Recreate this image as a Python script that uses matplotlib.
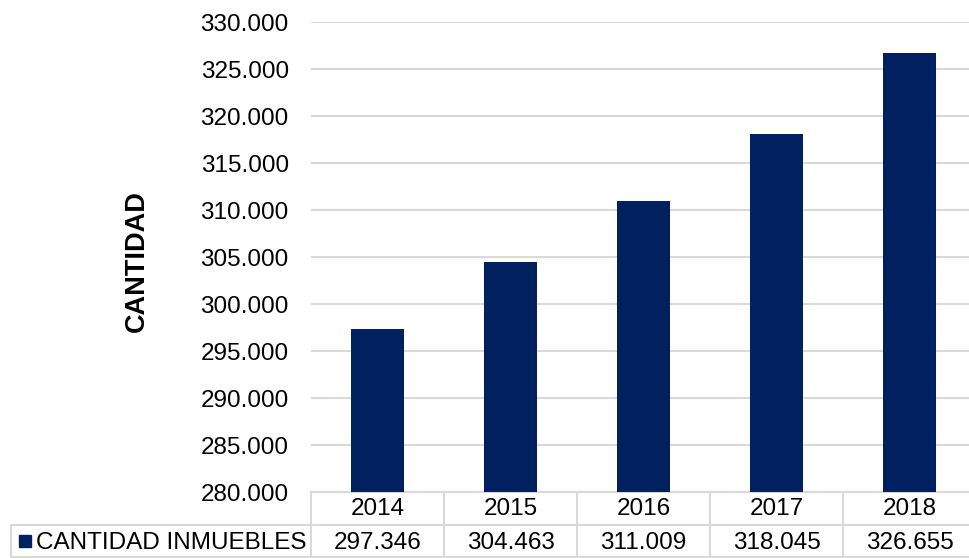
import numpy as np
import matplotlib.pyplot as plt
from matplotlib.transforms import blended_transform_factory

years = ["2014", "2015", "2016", "2017", "2018"]
inmuebles = [297346, 304463, 311009, 318045, 326655]
series_name = "CANTIDAD INMUEBLES"

NAVY = "#002060"
GRID = "#d9d9d9"
W, H = 969, 558
FS = 17.5

plt.rcParams['font.family'] = ['Liberation Sans', 'DejaVu Sans']


def miles(v):
    # 297346 -> "297.346"
    return "{:,.0f}".format(v).replace(",", ".")


def fy(py):
    # pixel row -> figure fraction
    return 1 - py / H


def fx(px):
    return px / W


fig = plt.figure(figsize=(W / 100, H / 100), dpi=100)
ax = fig.add_axes([fx(311), fy(492), fx(976) - fx(311), fy(22) - fy(492)])

x = np.arange(len(years))
ax.bar(x, inmuebles, width=0.4, color=NAVY, zorder=3)
ax.set_xlim(-0.5, len(years) - 0.5)
ax.set_ylim(280000, 330000)
ticks = np.arange(280000, 330001, 5000)
ax.set_yticks(ticks)
ax.set_yticklabels([miles(v) for v in ticks], fontsize=FS)
ax.tick_params(axis='y', length=0, pad=16)
ax.set_xticks([])
ax.yaxis.grid(True, color=GRID, linewidth=1.5, zorder=0)
for s in ax.spines.values():
    s.set_visible(False)

fig.text(fx(137), fy(261), "CANTIDAD", rotation=90, fontsize=19.5,
         fontweight='bold', ha='center', va='center')

# data table under the plot
tr = blended_transform_factory(ax.transData, fig.transFigure)
lk = dict(color=GRID, linewidth=1.5, clip_on=False)
edges = np.arange(len(years) + 1) - 0.5
ax.plot([edges[0], edges[-1]], [fy(492), fy(492)], transform=tr, **lk)
ax.plot([edges[0], edges[-1]], [fy(525), fy(525)], transform=tr, **lk)
ax.plot([edges[0], edges[-1]], [fy(557), fy(557)], transform=tr, **lk)
for e in edges:
    ax.plot([e, e], [fy(492), fy(558)], transform=tr, **lk)
fig.add_artist(plt.Line2D([fx(11), fx(311)], [fy(525), fy(525)], color=GRID, linewidth=1.5))
fig.add_artist(plt.Line2D([fx(11), fx(311)], [fy(557), fy(557)], color=GRID, linewidth=1.5))
fig.add_artist(plt.Line2D([fx(11), fx(11)], [fy(525), fy(558)], color=GRID, linewidth=1.5))

for i, (yr, v) in enumerate(zip(years, inmuebles)):
    ax.text(i, fy(509), yr, transform=tr, ha='center', va='center', fontsize=FS)
    ax.text(i, fy(543), miles(v), transform=tr, ha='center', va='center', fontsize=FS)

fig.add_artist(plt.Rectangle((fx(19), fy(547)), fx(12), fy(535) - fy(547), color=NAVY))
fig.text(fx(36), fy(543), series_name, ha='left', va='center', fontsize=FS)

fig.savefig("out.png", dpi=100)
